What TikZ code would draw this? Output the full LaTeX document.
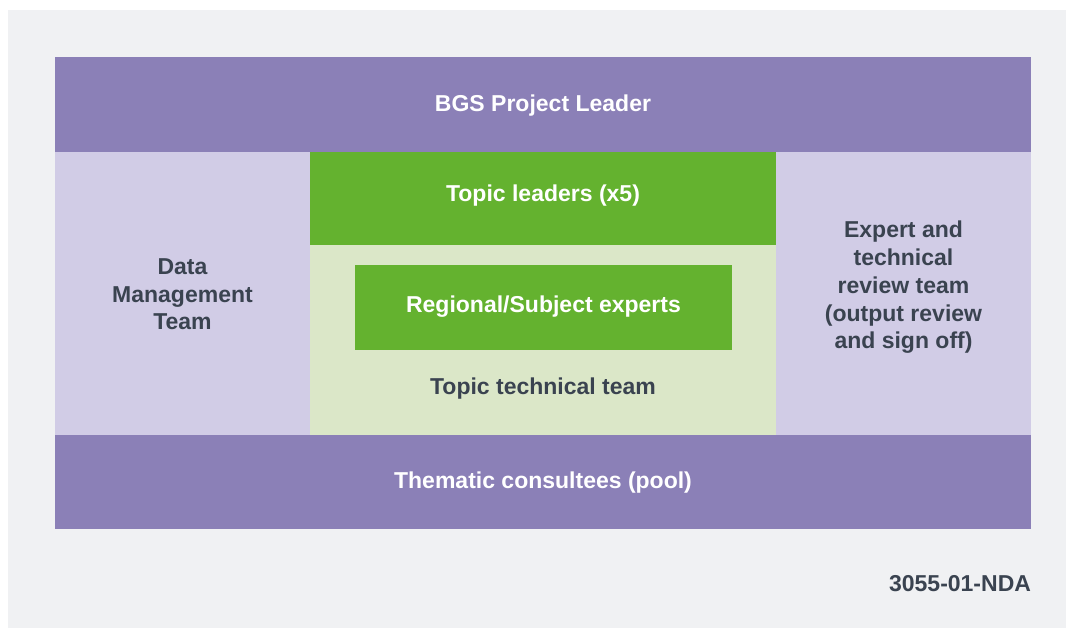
\documentclass[tikz,border=0pt]{standalone}
\usepackage{fontspec}
\setmainfont{Liberation Sans}
\usetikzlibrary{positioning}
\definecolor{bandPurple}{HTML}{8B80B7}
\definecolor{sidePurple}{HTML}{D1CCE6}
\definecolor{topicGreen}{HTML}{64B22F}
\definecolor{paleGreen}{HTML}{DBE7C8}
\definecolor{pageGrey}{HTML}{F0F1F3}
\definecolor{inkDark}{HTML}{3A4350}

\begin{document}
\begin{tikzpicture}
[x=1pt,y=-1pt,
  boxDecorate/.style={shape=rectangle,inner sep=0pt,outer sep=0pt,align=center,
    font=\bfseries\fontsize{23}{27.7}\selectfont},%
  lightText/.style={text=white},%
  darkText/.style={text=inkDark}]
%% page and bounding box
\fill[white] (0,0) rectangle (1066,628);
\fill[pageGrey] (8,10) rectangle (1066,628);
%% boxes
\foreach \nodename/\x/\y/\w/\h/\col/\txt in {
  leader/543/104.5/976/95/bandPurple/lightText,
  dataTeam/182.5/293.5/255/283/sidePurple/darkText,
  reviewTeam/903.5/293.5/255/283/sidePurple/darkText,
  topicLeaders/543/198.5/466/93/topicGreen/lightText,
  technicalTeam/543/340/466/190/paleGreen/darkText,
  experts/543.5/307.5/377/85/topicGreen/lightText,
  consultees/543/482/976/94/bandPurple/lightText}
{
  \node (\nodename) at (\x,\y) [boxDecorate,fill=\col,minimum width=\w pt,minimum height=\h pt] {};
}
%% labels
\node at ([yshift=-1pt]leader) [boxDecorate,lightText] {BGS Project Leader};
\node at ([yshift=-1pt]dataTeam) [boxDecorate,darkText] {Data\\Management\\Team};
\node at ([yshift=6pt]reviewTeam) [boxDecorate,darkText] {Expert and\\technical\\review team\\(output review\\and sign off)};
\node at ([yshift=3pt]topicLeaders) [boxDecorate,lightText] {Topic leaders (x5)};
\node at ([yshift=1pt]experts) [boxDecorate,lightText] {Regional/Subject experts};
\node (techLabel) at (543,389) [boxDecorate,darkText] {Topic technical team};
\node at ([yshift=-1pt]consultees) [boxDecorate,lightText] {Thematic consultees (pool)};
\node (drawingRef) at (1031,584) [boxDecorate,darkText,anchor=east] {3055-01-NDA};
\end{tikzpicture}
\end{document}
